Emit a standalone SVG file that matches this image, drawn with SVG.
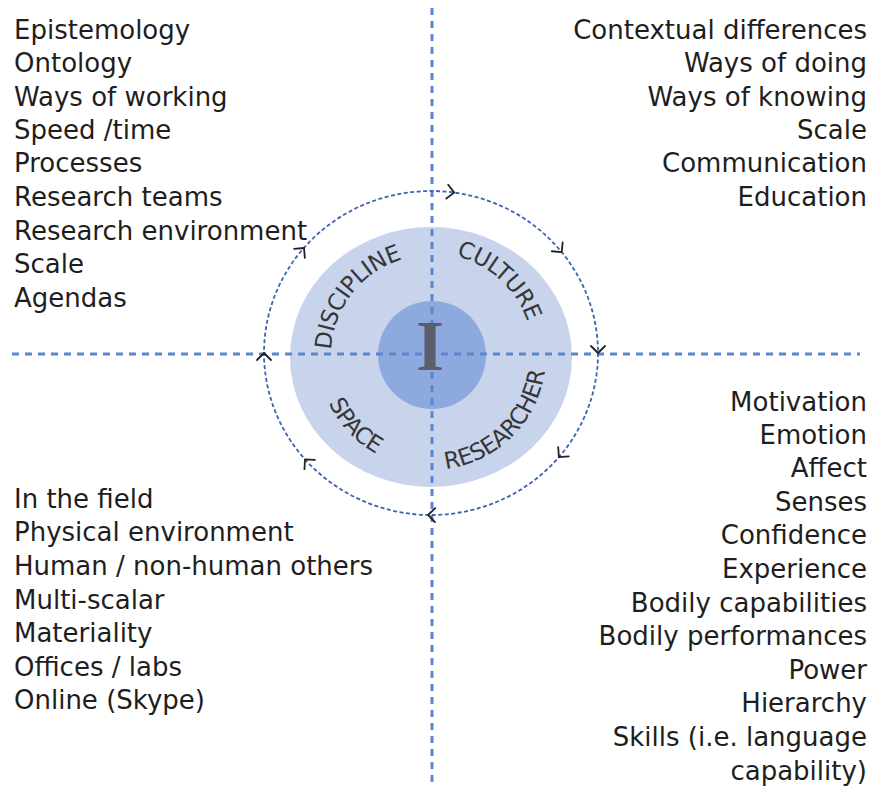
<svg xmlns="http://www.w3.org/2000/svg" xmlns:xlink="http://www.w3.org/1999/xlink" width="877" height="786" viewBox="0 0 877 786">
<style>
.t{font-family:"DejaVu Sans",sans-serif;font-size:26px;fill:#1e1e1e}
.r{text-anchor:end}
.arc{font-family:"DejaVu Sans",sans-serif;font-size:23px;fill:#363636;letter-spacing:-0.5px}
.axis{stroke:#5b86d1;stroke-width:3;stroke-dasharray:7 6;fill:none}
.ring{stroke:#3d63b0;stroke-width:1.8;stroke-dasharray:4 2.5;fill:none}
.chev{fill:none;stroke:#222;stroke-width:1.8;stroke-linecap:round;stroke-linejoin:round}
</style>
<defs>
<path id="chev" d="M-7,-7 L0,0 L-7,7"/>
<path id="pDis" d="M338.3,392.5 A100,100 0 0 1 444.9,256.0"/>
<path id="pCul" d="M400.3,257.7 A102,102 0 0 1 530.6,377.1"/>
<path id="pRes" d="M381.5,458.8 A115,115 0 0 0 535.7,307.3"/>
<path id="pSpa" d="M322.9,322 A113,113 0 0 0 456.4,465.1"/>
</defs>
<rect width="877" height="786" fill="#fff"/>
<g id="disc">
<ellipse cx="431" cy="357" rx="141" ry="130" fill="#c8d3ec"/>
</g>
<g id="core">
<circle cx="432" cy="355" r="54" fill="#8ea9dd"/>
</g>
<g id="connectors">
<line class="axis" x1="432" y1="8" x2="432" y2="782"/>
<line class="axis" x1="12" y1="354" x2="860" y2="354"/>
<ellipse class="ring" cx="431" cy="353" rx="167" ry="162"/>
<g class="chev">
<use xlink:href="#chev" transform="translate(454.2,192.6) rotate(7.8)"/>
<use xlink:href="#chev" transform="translate(561.7,252.2) rotate(50.6)"/>
<use xlink:href="#chev" transform="translate(598,353) rotate(90)"/>
<use xlink:href="#chev" transform="translate(558.9,457.1) rotate(130.9)"/>
<use xlink:href="#chev" transform="translate(428.1,515) rotate(181)"/>
<use xlink:href="#chev" transform="translate(305,459.3) rotate(228.1)"/>
<use xlink:href="#chev" transform="translate(264,353) rotate(270)"/>
<use xlink:href="#chev" transform="translate(304,248) rotate(309.9)"/>
</g>
</g>
<g id="center-I">
<text x="430" y="370" text-anchor="middle" font-family="Liberation Serif, serif" font-weight="bold" font-size="72" fill="#5a5f6b">I</text>
</g>
<g id="discipline"><text class="arc"><textPath xlink:href="#pDis" startOffset="50%" text-anchor="middle">DISCIPLINE</textPath></text></g>
<g id="culture"><text class="arc"><textPath xlink:href="#pCul" startOffset="50%" text-anchor="middle">CULTURE</textPath></text></g>
<g id="researcher"><text class="arc"><textPath xlink:href="#pRes" startOffset="50%" text-anchor="middle">RESEARCHER</textPath></text></g>
<g id="space"><text class="arc" letter-spacing="1.5"><textPath xlink:href="#pSpa" startOffset="50%" text-anchor="middle">SPACE</textPath></text></g>
<g id="list-discipline">
<text class="t" x="14" y="39">Epistemology</text>
<text class="t" x="14" y="72">Ontology</text>
<text class="t" x="14" y="106">Ways of working</text>
<text class="t" x="14" y="139">Speed /time</text>
<text class="t" x="14" y="172">Processes</text>
<text class="t" x="14" y="206">Research teams</text>
<text class="t" x="14" y="240">Research environment</text>
<text class="t" x="14" y="273">Scale</text>
<text class="t" x="14" y="307">Agendas</text>
</g>
<g id="list-culture">
<text class="t r" x="867" y="39">Contextual differences</text>
<text class="t r" x="867" y="72">Ways of doing</text>
<text class="t r" x="867" y="106">Ways of knowing</text>
<text class="t r" x="867" y="139">Scale</text>
<text class="t r" x="867" y="172">Communication</text>
<text class="t r" x="867" y="206">Education</text>
</g>
<g id="list-space">
<text class="t" x="14" y="508">In the field</text>
<text class="t" x="14" y="541">Physical environment</text>
<text class="t" x="14" y="575">Human / non-human others</text>
<text class="t" x="14" y="609">Multi-scalar</text>
<text class="t" x="14" y="642">Materiality</text>
<text class="t" x="14" y="676">Offices / labs</text>
<text class="t" x="14" y="709">Online (Skype)</text>
</g>
<g id="list-researcher">
<text class="t r" x="867" y="411">Motivation</text>
<text class="t r" x="867" y="444">Emotion</text>
<text class="t r" x="867" y="477">Affect</text>
<text class="t r" x="867" y="511">Senses</text>
<text class="t r" x="867" y="544">Confidence</text>
<text class="t r" x="867" y="578">Experience</text>
<text class="t r" x="867" y="612">Bodily capabilities</text>
<text class="t r" x="867" y="645">Bodily performances</text>
<text class="t r" x="867" y="679">Power</text>
<text class="t r" x="867" y="712">Hierarchy</text>
<text class="t r" x="867" y="746">Skills (i.e. language</text>
<text class="t r" x="867" y="780">capability)</text>
</g>
</svg>
